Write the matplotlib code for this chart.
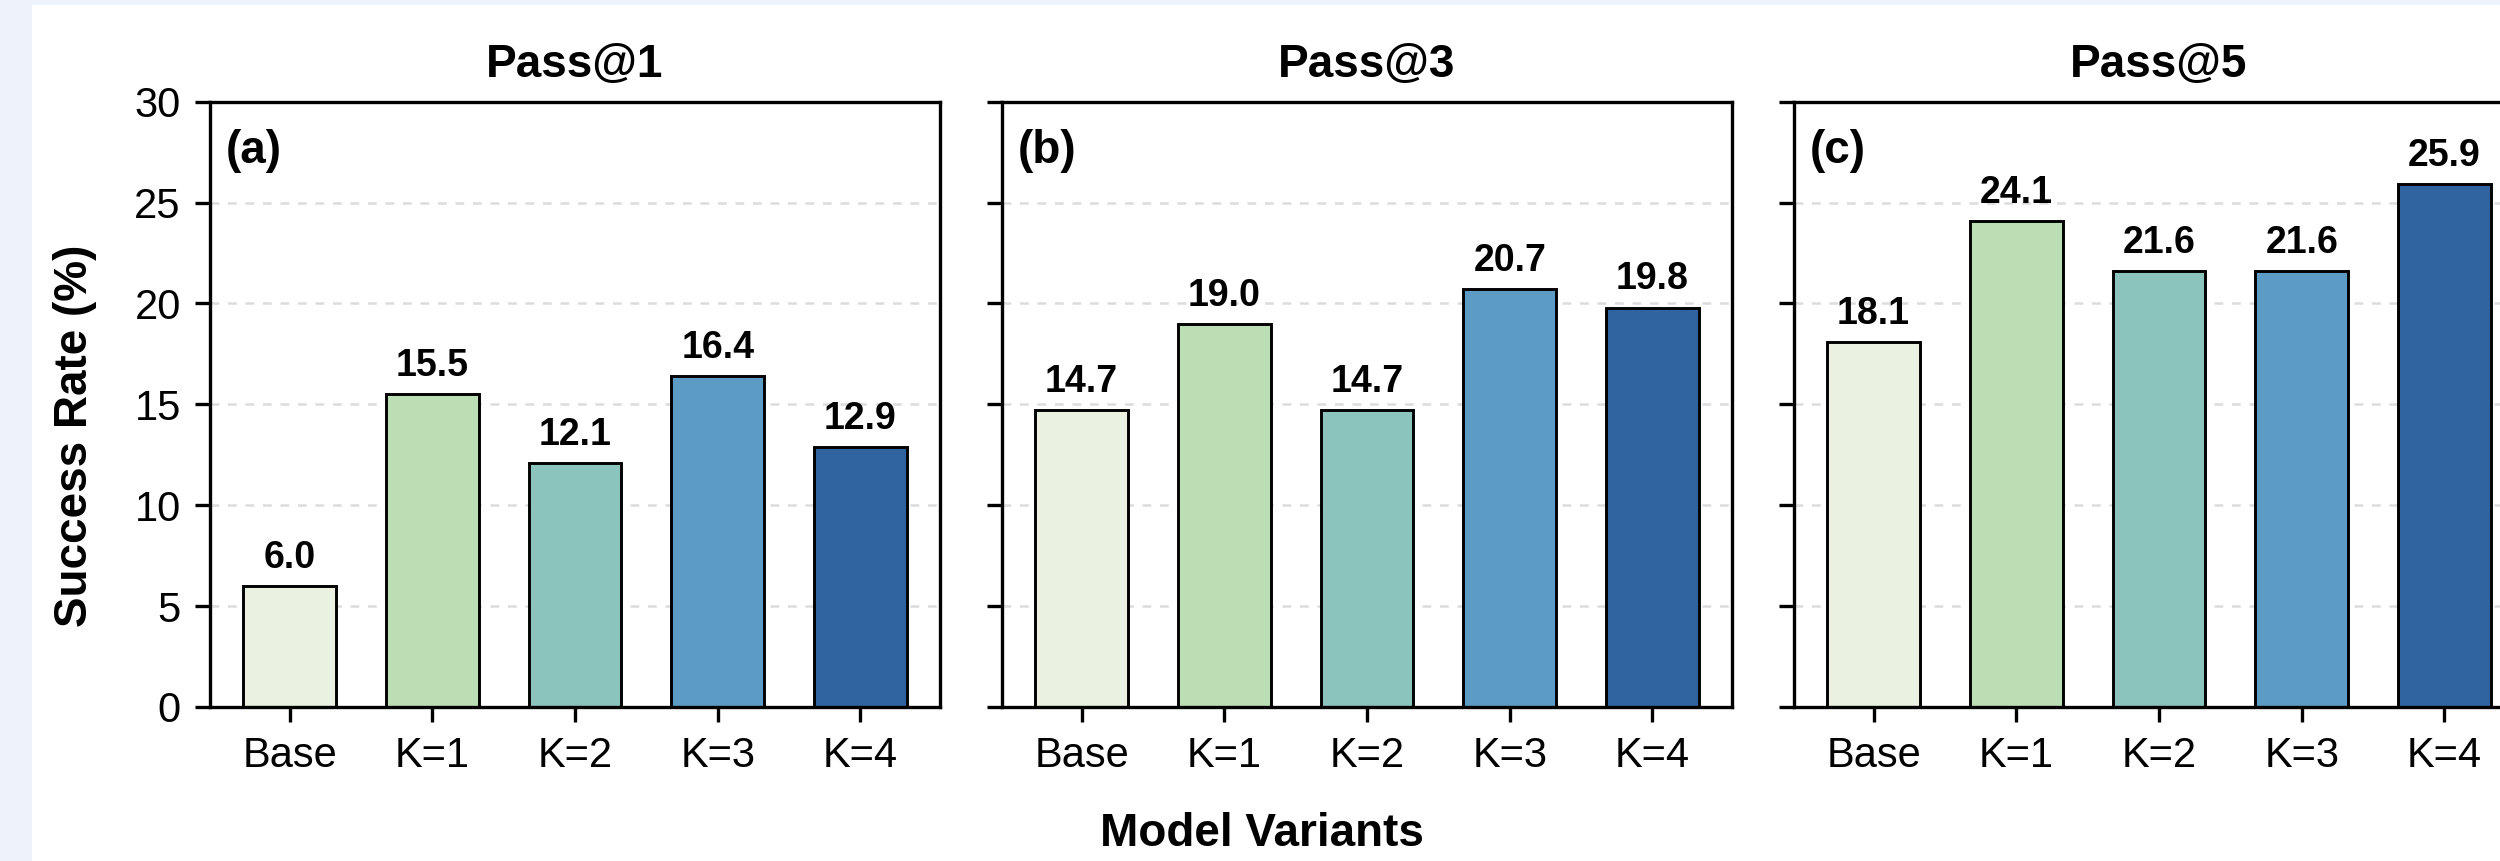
import matplotlib
matplotlib.use('Agg')
import matplotlib.pyplot as plt
from matplotlib.patches import Rectangle

plt.rcParams['font.family'] = ['Liberation Sans', 'DejaVu Sans']

# data
categories = ['Base', 'K=1', 'K=2', 'K=3', 'K=4']
pass1 = [6.0, 15.5, 12.1, 16.4, 12.9]
pass3 = [14.7, 19.0, 14.7, 20.7, 19.8]
pass5 = [18.1, 24.1, 21.6, 21.6, 25.9]
panel_titles = ['Pass@1', 'Pass@3', 'Pass@5']
panel_tags = ['(a)', '(b)', '(c)']
bar_colors = ['#eaf1e0', '#bcdeb5', '#8bc4bd', '#5b9bc4', '#3064a0']

W, H = 2500, 861
fig = plt.figure(figsize=(W / 300, H / 300), dpi=300, facecolor='#eef2fa')
# white page area (the reference is a cropped screenshot)
fig.patches.append(Rectangle((32 / W, 0), 1, (H - 5) / H, transform=fig.transFigure,
                             facecolor='white', edgecolor='none', zorder=-10))

# axes boxes in pixels: left edges, shared width/bottom/top
lefts = [210, 1002, 1794]
ax_w = 730
bottom_px, top_px = 707, 101.7

series = [pass1, pass3, pass5]
x = list(range(len(categories)))
for i, vals in enumerate(series):
    ax = fig.add_axes([lefts[i] / W, (H - bottom_px) / H, ax_w / W, (bottom_px - top_px) / H])
    ax.set_axisbelow(True)
    bars = ax.bar(x, vals, width=0.65, color=bar_colors, edgecolor='black', linewidth=0.7)
    for b, v in zip(bars, vals):
        ax.text(b.get_x() + b.get_width() / 2, v + 0.5, f'{v:.1f}', ha='center', va='bottom',
                fontsize=9, fontweight='bold')
    ax.set_ylim(0, 30)
    ax.set_yticks([0, 5, 10, 15, 20, 25, 30])
    ax.set_xticks(x)
    ax.set_xticklabels(categories, fontsize=10)
    ax.tick_params(axis='y', labelsize=10, width=0.8)
    ax.tick_params(axis='x', width=0.8)
    if i > 0:
        ax.tick_params(axis='y', labelleft=False)
    ax.grid(axis='y', color='#dcdcdc', linestyle=(0, (3.5, 3.5)), linewidth=0.6)
    for s in ax.spines.values():
        s.set_linewidth(0.8)
    ax.set_title(panel_titles[i], fontsize=11, fontweight='bold', pad=6)
    ax.text(0.022, 0.955, panel_tags[i], transform=ax.transAxes, ha='left', va='top',
            fontsize=11, fontweight='bold')

fig.text(75 / W, 1 - 436 / H, 'Success Rate (%)', rotation=90, ha='center', va='center',
         fontsize=11, fontweight='bold')
fig.text(1262 / W, 1 - 834 / H, 'Model Variants', ha='center', va='center',
         fontsize=11, fontweight='bold')

fig.savefig('out.png', dpi=300, facecolor=fig.get_facecolor())
